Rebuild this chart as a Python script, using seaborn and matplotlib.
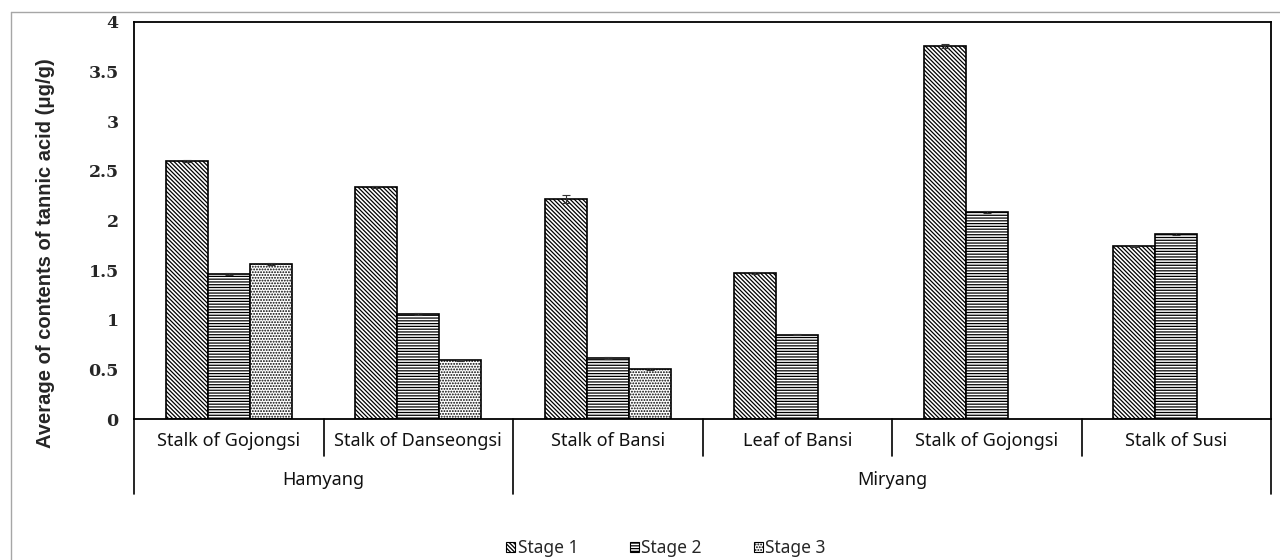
import matplotlib
matplotlib.use("Agg")
import matplotlib.pyplot as plt
import matplotlib.transforms as mtransforms
from matplotlib.lines import Line2D
from matplotlib.patches import Patch
import numpy as np
import pandas as pd
import seaborn as sns

# ---- data -------------------------------------------------------------
regions = ["Hamyang", "Hamyang", "Miryang", "Miryang", "Miryang", "Miryang"]
samples = ["Stalk of Gojongsi", "Stalk of Danseongsi", "Stalk of Bansi",
           "Leaf of Bansi", "Stalk of Gojongsi", "Stalk of Susi"]
stages = ["Stage 1", "Stage 2", "Stage 3"]

stage1 = [2.60, 2.34, 2.22, 1.47, 3.76, 1.74]
stage2 = [1.46, 1.06, 0.61, 0.85, 2.09, 1.86]
stage3 = [1.56, 0.59, 0.50, None, None, None]

err1 = [0.01, 0.01, 0.04, 0.01, 0.02, 0.005]
err2 = [0.01, 0.01, 0.01, 0.005, 0.01, 0.01]
err3 = [0.01, 0.005, 0.01, None, None, None]

# ---- long-form table --------------------------------------------------
keys = [f"{r} | {s}" for r, s in zip(regions, samples)]
rows = []
for stage, vals, errs in zip(stages, [stage1, stage2, stage3], [err1, err2, err3]):
    for k, v, e in zip(keys, vals, errs):
        if v is not None:
            rows.append({"key": k, "stage": stage, "value": v, "err": e})
df = pd.DataFrame(rows)
err_lookup = {(r.key, r.stage): r.err for r in df.itertuples()}

# ---- style ------------------------------------------------------------
sns.set_style("white")
plt.rcParams["hatch.linewidth"] = 0.9
plt.rcParams["hatch.color"] = "black"

fig = plt.figure(figsize=(12.8, 5.6), dpi=100)
ax = fig.add_axes([134 / 1280, 1 - 419 / 560, (1271 - 134) / 1280, (419 - 22) / 560])

sns.barplot(data=df, x="key", y="value", hue="stage", order=keys,
            hue_order=stages, palette=["white"] * 3, width=0.665,
            errorbar=None, edgecolor="black", linewidth=1.2, ax=ax,
            legend=False, saturation=1)

hatches = {"Stage 1": "\\" * 8, "Stage 2": "-" * 6, "Stage 3": "." * 6}
for stage, cont in zip(stages, ax.containers):
    for bar in cont:
        bar.set_hatch(hatches[stage])
        bar.set_facecolor("white")
        bar.set_edgecolor("black")
        cx = bar.get_x() + bar.get_width() / 2
        k = keys[int(round(cx))]
        e = err_lookup.get((k, stage))
        if e:
            ax.errorbar(cx, bar.get_height(), yerr=e, fmt="none",
                        ecolor="#333333", elinewidth=0.8, capsize=3,
                        capthick=0.8, zorder=5)

ax.set_ylim(0, 4)
ax.set_xlim(-0.5, len(keys) - 0.5)
ax.set_yticks(np.arange(0, 4.01, 0.5))
ax.set_yticklabels(["0", "0.5", "1", "1.5", "2", "2.5", "3", "3.5", "4"],
                   fontfamily="DejaVu Serif", fontweight="bold", fontsize=12.5)
ax.tick_params(axis="y", length=0, pad=11)
ax.set_xticks([])
ax.set_xlabel("")
ax.set_ylabel("")
for sp in ax.spines.values():
    sp.set_visible(True)
    sp.set_color("black")
    sp.set_linewidth(1.3)

fig.text(46 / 1280, 1 - 253 / 560, "Average of contents of tannic acid (μg/g)",
         rotation=90, ha="center", va="center", fontfamily="Liberation Sans",
         fontweight="bold", fontsize=14.5)

# ---- two-level category axis -----------------------------------------
trans = mtransforms.blended_transform_factory(ax.transData, ax.transAxes)
px = 1 / 397
for i in range(len(keys) + 1):
    xb = i - 0.5
    is_group_edge = (i == 0 or i == len(keys) or regions[i] != regions[i - 1])
    y_end = -75 * px if is_group_edge else -37 * px
    ax.add_line(Line2D([xb, xb], [0, y_end], transform=trans, color="black",
                       lw=1.2, clip_on=False))

for i, s in enumerate(samples):
    ax.text(i, -22 * px, s, transform=trans, ha="center", va="center",
            fontfamily="Noto Sans", fontsize=13, color="#111111")

groups = []
for i, r in enumerate(regions):
    if groups and groups[-1][0] == r:
        groups[-1][2] = i
    else:
        groups.append([r, i, i])
for r, i0, i1 in groups:
    ax.text((i0 + i1) / 2, -61 * px, r, transform=trans, ha="center",
            va="center", fontfamily="Noto Sans", fontsize=13, color="#111111")

# ---- legend -----------------------------------------------------------
handles = [Patch(facecolor="white", edgecolor="black", hatch=hatches[s],
                 linewidth=0.8, label=s) for s in stages]
fig.legend(handles=handles, loc="center", bbox_to_anchor=(666 / 1280, 12 / 560),
           ncol=3, frameon=False, handlelength=0.5, handleheight=0.5,
           handletextpad=0.15, columnspacing=3.0,
           prop={"family": "Noto Sans", "size": 12.5})

# ---- outer chart frame ----------------------------------------------
fig.add_artist(Line2D([11 / 1280, 1], [1 - 12 / 560, 1 - 12 / 560],
                      transform=fig.transFigure, color="#a6a6a6", lw=1))
fig.add_artist(Line2D([11 / 1280, 11 / 1280], [0, 1 - 12 / 560],
                      transform=fig.transFigure, color="#a6a6a6", lw=1))

fig.savefig("out.png", dpi=100)
